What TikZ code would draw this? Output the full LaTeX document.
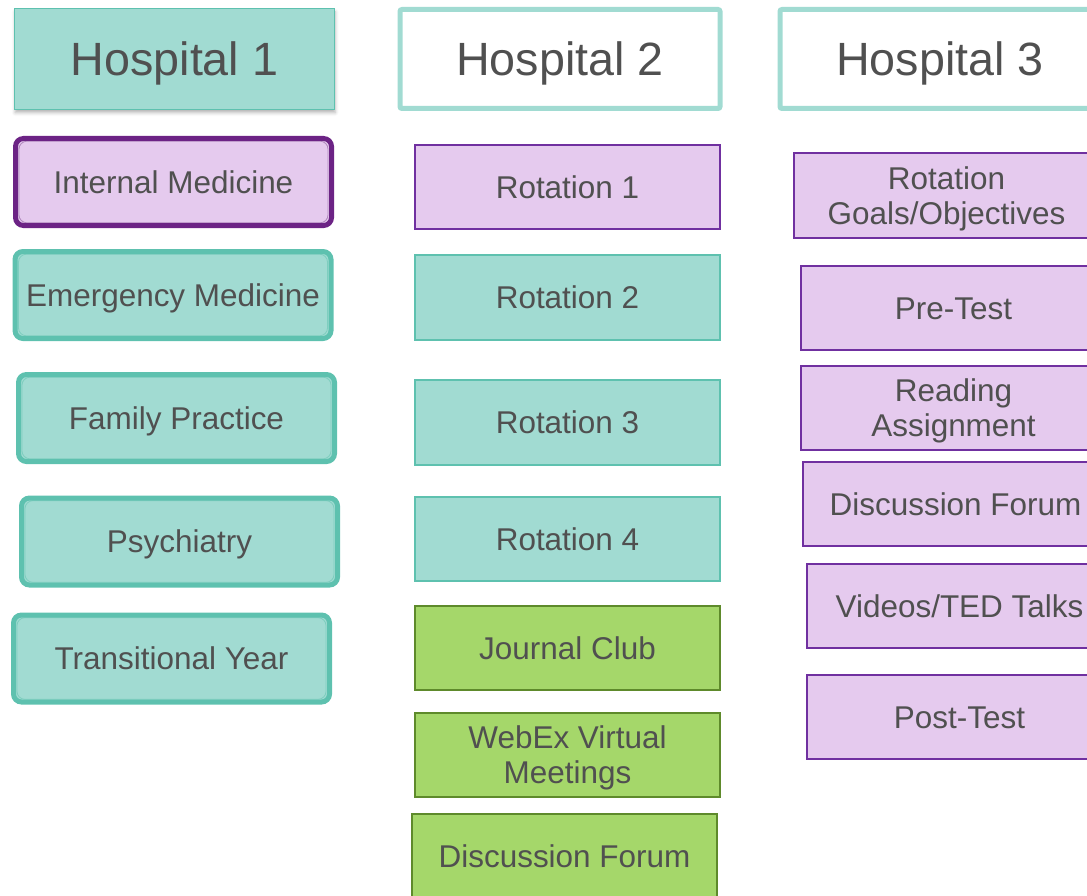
\documentclass[tikz,border=0pt]{standalone}
\usepackage{fontspec}
\setmainfont{Liberation Sans}
\usetikzlibrary{shadows.blur}

\definecolor{tealfill}{HTML}{A1DBD2}
\definecolor{tealline}{HTML}{5EC1AF}
\definecolor{lilacfill}{HTML}{E5CAEE}
\definecolor{purpleline}{HTML}{7030A0}
\definecolor{plumline}{HTML}{6C2385}
\definecolor{greenfill}{HTML}{A5D76A}
\definecolor{greenline}{HTML}{5E8A2B}
\definecolor{txtgray}{HTML}{505050}

\tikzset{
	hosp/.style={rectangle, minimum width=240pt, minimum height=75.5pt, inner sep=1pt,
		text height=25pt, text depth=0pt, text=txtgray, font=\fontsize{35}{42}\selectfont},
	dept/.style={rectangle, rounded corners=6pt, line width=3.75pt, minimum width=237pt,
		minimum height=65.25pt, inner sep=1pt, text height=16.9pt, text depth=0pt,
		text=txtgray, font=\fontsize{23.6}{26.3}\selectfont,
		path picture={\draw[line width=0.6pt, #1]
			([xshift=2.6pt, yshift=-2pt]path picture bounding box.north west) rectangle
			([xshift=-2.6pt, yshift=2pt]path picture bounding box.south east);}},
	tealdept/.style={dept=tealline!80, draw=tealline, fill=tealfill},
	plumdept/.style={dept=plumline!55, draw=plumline, fill=lilacfill},
	item/.style={rectangle, line width=1.3pt, minimum width=229pt, minimum height=63.5pt,
		inner sep=1pt, align=center, text height=16.9pt, text depth=0pt,
		text=txtgray, font=\fontsize{23.6}{26.3}\selectfont},
	twolines/.style={text height=43.2pt},
	lilacitem/.style={item, draw=purpleline, fill=lilacfill},
	tealitem/.style={item, draw=tealline, fill=tealfill},
	greenitem/.style={item, draw=greenline, fill=greenfill},
}

\begin{document}
\begin{tikzpicture}[x=0.75pt, y=-0.75pt]
	\useasboundingbox (0,0) rectangle (1087,895);

	\node[hosp, draw=tealline, line width=1.1pt, fill=tealfill,
		blur shadow={shadow xshift=0.5pt, shadow yshift=-2.5pt, shadow opacity=30, shadow blur radius=2.5pt}] (hosp1) at (174.5,59) {Hospital 1};
	\node[hosp, draw=tealfill, line width=3.75pt, rounded corners=1.5pt, minimum height=74.25pt] (hosp2) at (560,59) {Hospital 2};
	\node[hosp, draw=tealfill, line width=3.75pt, rounded corners=1.5pt, minimum height=74.25pt] (hosp3) at (940,59) {Hospital 3};

	\node[plumdept] (intmed) at (173.5,182) {Internal Medicine};
	\node[tealdept] (emmed) at (173,295) {Emergency Medicine};
	\node[tealdept] (fampr) at (176.5,418) {Family Practice};
	\node[tealdept] (psych) at (179.5,541.5) {Psychiatry};
	\node[tealdept] (transyr) at (171.5,658.5) {Transitional Year};

	\node[lilacitem] (rot1) at (567.5,187) {Rotation 1};
	\foreach \n/\y in {2/297.5, 3/422.5, 4/539} {
		\node[tealitem] (rot\n) at (567.5,\y) {Rotation \n};
	}
	\node[greenitem] (journal) at (567.5,648) {Journal Club};
	\node[greenitem, twolines] (webex) at (567.5,755) {WebEx Virtual\\Meetings};
	\node[greenitem] (forumtwo) at (564.5,856) {Discussion Forum};

	\node[lilacitem, twolines] (goals) at (946.5,195.5) {Rotation\\Goals/Objectives};
	\node[lilacitem] (pretest) at (953.5,308) {Pre-Test};
	\node[lilacitem, twolines] (reading) at (953.5,408) {Reading\\Assignment};
	\node[lilacitem] (forumthree) at (955.5,504) {Discussion Forum};
	\node[lilacitem] (videos) at (959.5,606) {Videos/TED Talks};
	\node[lilacitem] (posttest) at (959.5,717) {Post-Test};
\end{tikzpicture}
\end{document}
